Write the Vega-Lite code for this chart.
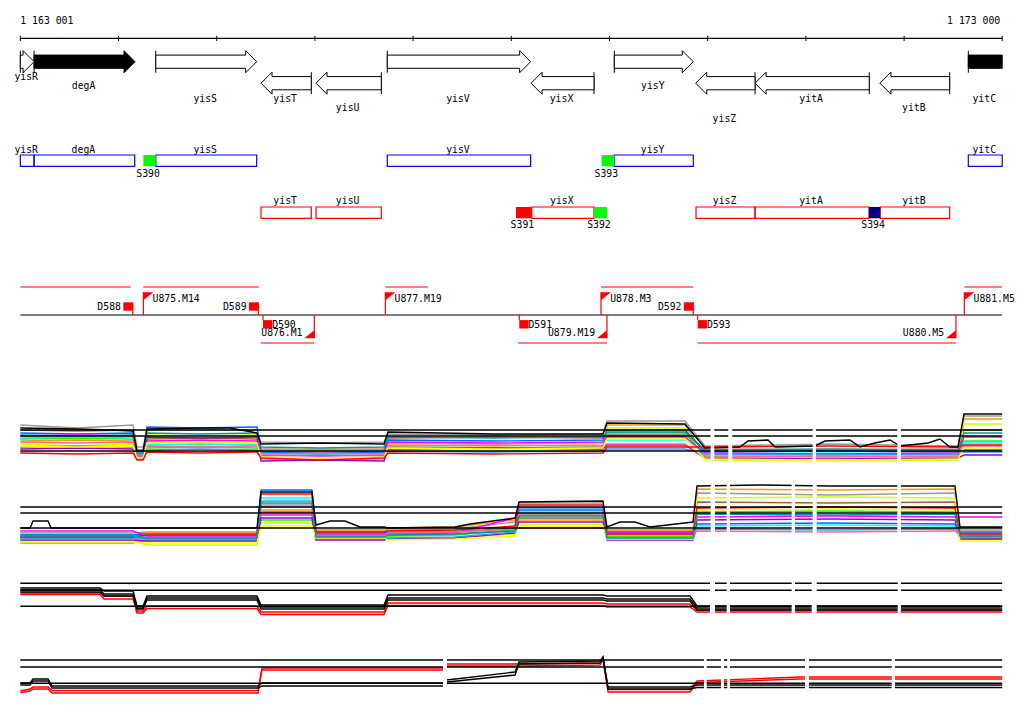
{
"$schema":"https://vega.github.io/schema/vega-lite/v6.json",
"width":1024,"height":714,
"autosize":{"type":"fit","contains":"padding"},
"padding":0,
"background":"white",
"config":{"view":{"stroke":null},"text":{"font":"DejaVu Sans Mono","fontSize":9.8,"color":"black","baseline":"alphabetic"}},
"datasets":{
"genes":[
{"n":"yisR","a":1163001,"b":1163141,"s":"+","f":0,"ly":80},
{"n":"degA","a":1163141,"b":1164169,"s":"+","f":1,"ly":89},
{"n":"yisS","a":1164380,"b":1165408,"s":"+","f":0,"ly":101.5},
{"n":"yisT","a":1165452,"b":1165964,"s":"-","f":0,"ly":101.5},
{"n":"yisU","a":1166012,"b":1166677,"s":"-","f":0,"ly":110.5},
{"n":"yisV","a":1166738,"b":1168198,"s":"+","f":0,"ly":101.5},
{"n":"yisX","a":1168202,"b":1168843,"s":"-","f":0,"ly":101.5},
{"n":"yisY","a":1169050,"b":1169854,"s":"+","f":0,"ly":89},
{"n":"yisZ","a":1169879,"b":1170483,"s":"-","f":0,"ly":121.5},
{"n":"yitA","a":1170483,"b":1171646,"s":"-","f":0,"ly":101.5},
{"n":"yitB","a":1171755,"b":1172465,"s":"-","f":0,"ly":110.5},
{"n":"yitC","a":1172655,"b":1173000,"s":"+","f":1,"ly":101.5,"t":1}
],
"boxes":[
{"n":"yisR","a":1163001,"b":1163141,"s":"+"},
{"n":"degA","a":1163141,"b":1164166,"s":"+"},
{"n":"yisS","a":1164380,"b":1165408,"s":"+"},
{"n":"yisV","a":1166738,"b":1168198,"s":"+"},
{"n":"yisY","a":1169047,"b":1169854,"s":"+"},
{"n":"yitC","a":1172655,"b":1173000,"s":"+"},
{"n":"yisT","a":1165452,"b":1165964,"s":"-"},
{"n":"yisU","a":1166012,"b":1166677,"s":"-"},
{"n":"yisX","a":1168209,"b":1168843,"s":"-"},
{"n":"yisZ","a":1169882,"b":1170483,"s":"-"},
{"n":"yitA","a":1170483,"b":1171643,"s":"-"},
{"n":"yitB","a":1171758,"b":1172465,"s":"-"}
],
"sites":[
{"n":"S390","a":1164254,"b":1164380,"s":"+","c":"g"},
{"n":"S391","a":1168049,"b":1168209,"s":"-","c":"r"},
{"n":"S392","a":1168843,"b":1168975,"s":"-","c":"g"},
{"n":"S393","a":1168921,"b":1169047,"s":"+","c":"g"},
{"n":"S394","a":1171643,"b":1171758,"s":"-","c":"b"}
],
"tul":[
{"a":1163001,"b":1173000,"s":"0"},
{"a":1163001,"b":1164125,"s":"+"},
{"a":1164254,"b":1165429,"s":"+"},
{"a":1166718,"b":1167153,"s":"+"},
{"a":1168914,"b":1169854,"s":"+"},
{"a":1172614,"b":1173000,"s":"+"},
{"a":1165452,"b":1165995,"s":"-"},
{"a":1168069,"b":1168975,"s":"-"},
{"a":1169899,"b":1172529,"s":"-"}
],
"tum":[
{"n":"D588","p":1164146,"k":"Du"},
{"n":"D589","p":1165425,"k":"Du"},
{"n":"D592","p":1169854,"k":"Du"},
{"n":"D590","p":1165472,"k":"Dd"},
{"n":"D591","p":1168082,"k":"Dd"},
{"n":"D593","p":1169899,"k":"Dd"},
{"n":"U875.M14","p":1164254,"k":"Uf"},
{"n":"U877.M19","p":1166718,"k":"Uf"},
{"n":"U878.M3","p":1168914,"k":"Uf"},
{"n":"U881.M5","p":1172614,"k":"Uf"},
{"n":"U876.M1","p":1165995,"k":"Ur"},
{"n":"U879.M19","p":1168975,"k":"Ur"},
{"n":"U880.M5","p":1172529,"k":"Ur"}
],
"refs":[
{"x":1163001,"x2":1173000,"y":430},{"x":1163001,"x2":1173000,"y":436},{"x":1163001,"x2":1173000,"y":451},
{"x":1163001,"x2":1173000,"y":507},{"x":1163001,"x2":1173000,"y":513},{"x":1163001,"x2":1173000,"y":528},
{"x":1163001,"x2":1173000,"y":583.3},{"x":1163001,"x2":1173000,"y":590.3},{"x":1163001,"x2":1173000,"y":606.3},
{"x":1163001,"x2":1173000,"y":660},{"x":1163001,"x2":1173000,"y":667},{"x":1163001,"x2":1173000,"y":683.3}
],
"gaps":[
{"x":1170031,"x2":1170068,"y":400,"y2":472},{"x":1170211,"x2":1170251,"y":400,"y2":472},{"x":1171070,"x2":1171104,"y":400,"y2":472},{"x":1171932,"x2":1171969,"y":400,"y2":472},
{"x":1170031,"x2":1170075,"y":478,"y2":553},{"x":1170194,"x2":1170228,"y":478,"y2":553},{"x":1170856,"x2":1170890,"y":478,"y2":553},{"x":1171070,"x2":1171111,"y":478,"y2":553},{"x":1171932,"x2":1171969,"y":478,"y2":553},
{"x":1170024,"x2":1170075,"y":578,"y2":620},{"x":1170194,"x2":1170228,"y":578,"y2":620},{"x":1170856,"x2":1170890,"y":578,"y2":620},{"x":1171060,"x2":1171111,"y":578,"y2":620},{"x":1171936,"x2":1171969,"y":578,"y2":620},
{"x":1167305,"x2":1167346,"y":652,"y2":700},{"x":1169963,"x2":1169991,"y":652,"y2":700},{"x":1170136,"x2":1170167,"y":652,"y2":700},{"x":1170200,"x2":1170228,"y":652,"y2":700},{"x":1170992,"x2":1171032,"y":652,"y2":700},{"x":1171875,"x2":1171908,"y":652,"y2":700}
],
"ex":[
{"g":"a01","x":1163001,"y":425},{"g":"a01","x":1163578,"y":428},{"g":"a01","x":1164149,"y":425},{"g":"a01","x":1164189,"y":447},{"g":"a01","x":1164251,"y":447},{"g":"a01","x":1164291,"y":430},{"g":"a01","x":1164831,"y":430},{"g":"a01","x":1165411,"y":430},{"g":"a01","x":1165452,"y":442},{"g":"a01","x":1166053,"y":443},{"g":"a01","x":1166705,"y":442},{"g":"a01","x":1166745,"y":434},{"g":"a01","x":1167835,"y":435},{"g":"a01","x":1168935,"y":434},{"g":"a01","x":1168975,"y":421},{"g":"a01","x":1169770,"y":421},{"g":"a01","x":1169973,"y":446},{"g":"a01","x":1171246,"y":444},{"g":"a01","x":1172550,"y":446},{"g":"a01","x":1172611,"y":416},{"g":"a01","x":1173000,"y":416},
{"g":"a02","x":1163001,"y":430},{"g":"a02","x":1163578,"y":431},{"g":"a02","x":1164149,"y":430},{"g":"a02","x":1164189,"y":450},{"g":"a02","x":1164251,"y":450},{"g":"a02","x":1164291,"y":439},{"g":"a02","x":1164831,"y":438},{"g":"a02","x":1165411,"y":439},{"g":"a02","x":1165452,"y":449},{"g":"a02","x":1166053,"y":450},{"g":"a02","x":1166705,"y":449},{"g":"a02","x":1166745,"y":438},{"g":"a02","x":1167835,"y":437},{"g":"a02","x":1168935,"y":438},{"g":"a02","x":1168975,"y":435},{"g":"a02","x":1169770,"y":435},{"g":"a02","x":1169973,"y":449},{"g":"a02","x":1171246,"y":450},{"g":"a02","x":1172550,"y":449},{"g":"a02","x":1172611,"y":430},{"g":"a02","x":1173000,"y":430},
{"g":"a03","x":1163001,"y":441},{"g":"a03","x":1163578,"y":440},{"g":"a03","x":1164149,"y":441},{"g":"a03","x":1164189,"y":452},{"g":"a03","x":1164251,"y":452},{"g":"a03","x":1164291,"y":445},{"g":"a03","x":1164831,"y":444},{"g":"a03","x":1165411,"y":445},{"g":"a03","x":1165452,"y":450},{"g":"a03","x":1166053,"y":449},{"g":"a03","x":1166705,"y":450},{"g":"a03","x":1166745,"y":445},{"g":"a03","x":1167835,"y":446},{"g":"a03","x":1168935,"y":445},{"g":"a03","x":1168975,"y":425},{"g":"a03","x":1169770,"y":425},{"g":"a03","x":1169973,"y":455},{"g":"a03","x":1171246,"y":454},{"g":"a03","x":1172550,"y":455},{"g":"a03","x":1172611,"y":419},{"g":"a03","x":1173000,"y":419},
{"g":"a04","x":1163001,"y":444},{"g":"a04","x":1163578,"y":446},{"g":"a04","x":1164149,"y":444},{"g":"a04","x":1164189,"y":458},{"g":"a04","x":1164251,"y":458},{"g":"a04","x":1164291,"y":435},{"g":"a04","x":1164831,"y":436},{"g":"a04","x":1165411,"y":435},{"g":"a04","x":1165452,"y":459},{"g":"a04","x":1166053,"y":460},{"g":"a04","x":1166705,"y":459},{"g":"a04","x":1166745,"y":450},{"g":"a04","x":1167835,"y":451},{"g":"a04","x":1168935,"y":450},{"g":"a04","x":1168975,"y":428},{"g":"a04","x":1169770,"y":428},{"g":"a04","x":1169973,"y":460},{"g":"a04","x":1171246,"y":461},{"g":"a04","x":1172550,"y":460},{"g":"a04","x":1172611,"y":424},{"g":"a04","x":1173000,"y":424},
{"g":"a05","x":1163001,"y":439},{"g":"a05","x":1163578,"y":438},{"g":"a05","x":1164149,"y":439},{"g":"a05","x":1164189,"y":454},{"g":"a05","x":1164251,"y":454},{"g":"a05","x":1164291,"y":448},{"g":"a05","x":1164831,"y":447},{"g":"a05","x":1165411,"y":448},{"g":"a05","x":1165452,"y":453},{"g":"a05","x":1166053,"y":454},{"g":"a05","x":1166705,"y":453},{"g":"a05","x":1166745,"y":447},{"g":"a05","x":1167835,"y":448},{"g":"a05","x":1168935,"y":447},{"g":"a05","x":1168975,"y":433},{"g":"a05","x":1169770,"y":433},{"g":"a05","x":1169973,"y":456},{"g":"a05","x":1171246,"y":457},{"g":"a05","x":1172550,"y":456},{"g":"a05","x":1172611,"y":441},{"g":"a05","x":1173000,"y":441},
{"g":"a06","x":1163001,"y":438},{"g":"a06","x":1163578,"y":437},{"g":"a06","x":1164149,"y":438},{"g":"a06","x":1164189,"y":453},{"g":"a06","x":1164251,"y":453},{"g":"a06","x":1164291,"y":444},{"g":"a06","x":1164831,"y":445},{"g":"a06","x":1165411,"y":444},{"g":"a06","x":1165452,"y":451},{"g":"a06","x":1166053,"y":452},{"g":"a06","x":1166705,"y":451},{"g":"a06","x":1166745,"y":443},{"g":"a06","x":1167835,"y":444},{"g":"a06","x":1168935,"y":443},{"g":"a06","x":1168975,"y":440},{"g":"a06","x":1169770,"y":440},{"g":"a06","x":1169973,"y":451},{"g":"a06","x":1171246,"y":452},{"g":"a06","x":1172550,"y":451},{"g":"a06","x":1172611,"y":443},{"g":"a06","x":1173000,"y":443},
{"g":"a07","x":1163001,"y":433},{"g":"a07","x":1163578,"y":434},{"g":"a07","x":1164149,"y":433},{"g":"a07","x":1164189,"y":455},{"g":"a07","x":1164251,"y":455},{"g":"a07","x":1164291,"y":427},{"g":"a07","x":1164831,"y":428},{"g":"a07","x":1165411,"y":427},{"g":"a07","x":1165452,"y":452},{"g":"a07","x":1166053,"y":453},{"g":"a07","x":1166705,"y":452},{"g":"a07","x":1166745,"y":440},{"g":"a07","x":1167835,"y":441},{"g":"a07","x":1168935,"y":440},{"g":"a07","x":1168975,"y":430},{"g":"a07","x":1169770,"y":430},{"g":"a07","x":1169973,"y":452},{"g":"a07","x":1171246,"y":451},{"g":"a07","x":1172550,"y":452},{"g":"a07","x":1172611,"y":450},{"g":"a07","x":1173000,"y":450},
{"g":"a08","x":1163001,"y":436},{"g":"a08","x":1163578,"y":435},{"g":"a08","x":1164149,"y":436},{"g":"a08","x":1164189,"y":456},{"g":"a08","x":1164251,"y":456},{"g":"a08","x":1164291,"y":441},{"g":"a08","x":1164831,"y":440},{"g":"a08","x":1165411,"y":441},{"g":"a08","x":1165452,"y":455},{"g":"a08","x":1166053,"y":456},{"g":"a08","x":1166705,"y":455},{"g":"a08","x":1166745,"y":442},{"g":"a08","x":1167835,"y":443},{"g":"a08","x":1168935,"y":442},{"g":"a08","x":1168975,"y":437},{"g":"a08","x":1169770,"y":437},{"g":"a08","x":1169973,"y":453},{"g":"a08","x":1171246,"y":454},{"g":"a08","x":1172550,"y":453},{"g":"a08","x":1172611,"y":437},{"g":"a08","x":1173000,"y":437},
{"g":"a09","x":1163001,"y":449},{"g":"a09","x":1163578,"y":448},{"g":"a09","x":1164149,"y":449},{"g":"a09","x":1164189,"y":459},{"g":"a09","x":1164251,"y":459},{"g":"a09","x":1164291,"y":437},{"g":"a09","x":1164831,"y":438},{"g":"a09","x":1165411,"y":437},{"g":"a09","x":1165452,"y":461},{"g":"a09","x":1166053,"y":460},{"g":"a09","x":1166705,"y":461},{"g":"a09","x":1166745,"y":449},{"g":"a09","x":1167835,"y":448},{"g":"a09","x":1168935,"y":449},{"g":"a09","x":1168975,"y":445},{"g":"a09","x":1169770,"y":445},{"g":"a09","x":1169973,"y":458},{"g":"a09","x":1171246,"y":459},{"g":"a09","x":1172550,"y":458},{"g":"a09","x":1172611,"y":455},{"g":"a09","x":1173000,"y":455},
{"g":"a10","x":1163001,"y":447},{"g":"a10","x":1163578,"y":446},{"g":"a10","x":1164149,"y":447},{"g":"a10","x":1164189,"y":457},{"g":"a10","x":1164251,"y":457},{"g":"a10","x":1164291,"y":450},{"g":"a10","x":1164831,"y":449},{"g":"a10","x":1165411,"y":450},{"g":"a10","x":1165452,"y":456},{"g":"a10","x":1166053,"y":455},{"g":"a10","x":1166705,"y":456},{"g":"a10","x":1166745,"y":451},{"g":"a10","x":1167835,"y":452},{"g":"a10","x":1168935,"y":451},{"g":"a10","x":1168975,"y":449},{"g":"a10","x":1169770,"y":449},{"g":"a10","x":1169973,"y":454},{"g":"a10","x":1171246,"y":455},{"g":"a10","x":1172550,"y":454},{"g":"a10","x":1172611,"y":452},{"g":"a10","x":1173000,"y":452},
{"g":"a11","x":1163001,"y":442},{"g":"a11","x":1163578,"y":443},{"g":"a11","x":1164149,"y":442},{"g":"a11","x":1164189,"y":455},{"g":"a11","x":1164251,"y":455},{"g":"a11","x":1164291,"y":446},{"g":"a11","x":1164831,"y":447},{"g":"a11","x":1165411,"y":446},{"g":"a11","x":1165452,"y":454},{"g":"a11","x":1166053,"y":453},{"g":"a11","x":1166705,"y":454},{"g":"a11","x":1166745,"y":446},{"g":"a11","x":1167835,"y":445},{"g":"a11","x":1168935,"y":446},{"g":"a11","x":1168975,"y":444},{"g":"a11","x":1169770,"y":444},{"g":"a11","x":1169973,"y":457},{"g":"a11","x":1171246,"y":456},{"g":"a11","x":1172550,"y":457},{"g":"a11","x":1172611,"y":446},{"g":"a11","x":1173000,"y":446},
{"g":"a12","x":1163001,"y":446},{"g":"a12","x":1163578,"y":447},{"g":"a12","x":1164149,"y":446},{"g":"a12","x":1164189,"y":458},{"g":"a12","x":1164251,"y":458},{"g":"a12","x":1164291,"y":443},{"g":"a12","x":1164831,"y":442},{"g":"a12","x":1165411,"y":443},{"g":"a12","x":1165452,"y":457},{"g":"a12","x":1166053,"y":458},{"g":"a12","x":1166705,"y":457},{"g":"a12","x":1166745,"y":448},{"g":"a12","x":1167835,"y":449},{"g":"a12","x":1168935,"y":448},{"g":"a12","x":1168975,"y":439},{"g":"a12","x":1169770,"y":439},{"g":"a12","x":1169973,"y":459},{"g":"a12","x":1171246,"y":460},{"g":"a12","x":1172550,"y":459},{"g":"a12","x":1172611,"y":448},{"g":"a12","x":1173000,"y":448},
{"g":"a13","x":1163001,"y":453},{"g":"a13","x":1163578,"y":454},{"g":"a13","x":1164149,"y":453},{"g":"a13","x":1164189,"y":460},{"g":"a13","x":1164251,"y":460},{"g":"a13","x":1164291,"y":452},{"g":"a13","x":1164831,"y":453},{"g":"a13","x":1165411,"y":452},{"g":"a13","x":1165452,"y":458},{"g":"a13","x":1166053,"y":460},{"g":"a13","x":1166705,"y":458},{"g":"a13","x":1166745,"y":453},{"g":"a13","x":1167835,"y":454},{"g":"a13","x":1168935,"y":453},{"g":"a13","x":1168975,"y":447},{"g":"a13","x":1169770,"y":447},{"g":"a13","x":1169973,"y":447},{"g":"a13","x":1171246,"y":446},{"g":"a13","x":1172550,"y":447},{"g":"a13","x":1172611,"y":445},{"g":"a13","x":1173000,"y":445},
{"g":"a14","x":1163001,"y":435},{"g":"a14","x":1163578,"y":436},{"g":"a14","x":1164149,"y":435},{"g":"a14","x":1164189,"y":453},{"g":"a14","x":1164251,"y":453},{"g":"a14","x":1164291,"y":433},{"g":"a14","x":1164831,"y":434},{"g":"a14","x":1165411,"y":433},{"g":"a14","x":1165452,"y":447},{"g":"a14","x":1166053,"y":448},{"g":"a14","x":1166705,"y":447},{"g":"a14","x":1166745,"y":437},{"g":"a14","x":1167835,"y":438},{"g":"a14","x":1168935,"y":437},{"g":"a14","x":1168975,"y":432},{"g":"a14","x":1169770,"y":432},{"g":"a14","x":1169973,"y":450},{"g":"a14","x":1171246,"y":449},{"g":"a14","x":1172550,"y":450},{"g":"a14","x":1172611,"y":433},{"g":"a14","x":1173000,"y":433},
{"g":"a15","x":1163001,"y":428},{"g":"a15","x":1163578,"y":429},{"g":"a15","x":1163914,"y":430},{"g":"a15","x":1164149,"y":431},{"g":"a15","x":1164189,"y":451},{"g":"a15","x":1164251,"y":451},{"g":"a15","x":1164291,"y":429},{"g":"a15","x":1164831,"y":428},{"g":"a15","x":1165136,"y":428},{"g":"a15","x":1165411,"y":433},{"g":"a15","x":1165452,"y":444},{"g":"a15","x":1166053,"y":443},{"g":"a15","x":1166705,"y":444},{"g":"a15","x":1166745,"y":432},{"g":"a15","x":1167835,"y":434},{"g":"a15","x":1168935,"y":434},{"g":"a15","x":1168975,"y":423},{"g":"a15","x":1169770,"y":424},{"g":"a15","x":1169973,"y":448},{"g":"a15","x":1170330,"y":447},{"g":"a15","x":1170411,"y":441},{"g":"a15","x":1170615,"y":440},{"g":"a15","x":1170686,"y":447},{"g":"a15","x":1171093,"y":446},{"g":"a15","x":1171195,"y":441},{"g":"a15","x":1171450,"y":440},{"g":"a15","x":1171552,"y":447},{"g":"a15","x":1171704,"y":443},{"g":"a15","x":1171857,"y":440},{"g":"a15","x":1171959,"y":446},{"g":"a15","x":1172244,"y":443},{"g":"a15","x":1172366,"y":439},{"g":"a15","x":1172468,"y":447},{"g":"a15","x":1172550,"y":447},{"g":"a15","x":1172611,"y":414},{"g":"a15","x":1173000,"y":414},
{"g":"b01","x":1163001,"y":533},{"g":"b01","x":1164149,"y":533},{"g":"b01","x":1164291,"y":532},{"g":"b01","x":1165411,"y":532},{"g":"b01","x":1165452,"y":505},{"g":"b01","x":1165971,"y":505},{"g":"b01","x":1166012,"y":530},{"g":"b01","x":1166705,"y":530},{"g":"b01","x":1166745,"y":530},{"g":"b01","x":1167428,"y":529},{"g":"b01","x":1168039,"y":522},{"g":"b01","x":1168079,"y":503},{"g":"b01","x":1168935,"y":503},{"g":"b01","x":1168975,"y":530},{"g":"b01","x":1169851,"y":530},{"g":"b01","x":1169892,"y":493},{"g":"b01","x":1171246,"y":495},{"g":"b01","x":1172519,"y":493},{"g":"b01","x":1172570,"y":530},{"g":"b01","x":1173000,"y":530},
{"g":"b02","x":1163001,"y":538},{"g":"b02","x":1164149,"y":538},{"g":"b02","x":1164291,"y":538},{"g":"b02","x":1165411,"y":538},{"g":"b02","x":1165452,"y":512},{"g":"b02","x":1165971,"y":512},{"g":"b02","x":1166012,"y":536},{"g":"b02","x":1166705,"y":536},{"g":"b02","x":1166745,"y":535},{"g":"b02","x":1167428,"y":534},{"g":"b02","x":1168039,"y":530},{"g":"b02","x":1168079,"y":518},{"g":"b02","x":1168935,"y":518},{"g":"b02","x":1168975,"y":537},{"g":"b02","x":1169851,"y":537},{"g":"b02","x":1169892,"y":502},{"g":"b02","x":1171246,"y":503},{"g":"b02","x":1172519,"y":502},{"g":"b02","x":1172570,"y":536},{"g":"b02","x":1173000,"y":536},
{"g":"b03","x":1163001,"y":536},{"g":"b03","x":1164149,"y":536},{"g":"b03","x":1164291,"y":533},{"g":"b03","x":1165411,"y":533},{"g":"b03","x":1165452,"y":510},{"g":"b03","x":1165971,"y":510},{"g":"b03","x":1166012,"y":531},{"g":"b03","x":1166705,"y":531},{"g":"b03","x":1166745,"y":528},{"g":"b03","x":1167428,"y":527},{"g":"b03","x":1168039,"y":520},{"g":"b03","x":1168079,"y":520},{"g":"b03","x":1168935,"y":520},{"g":"b03","x":1168975,"y":531},{"g":"b03","x":1169851,"y":531},{"g":"b03","x":1169892,"y":489},{"g":"b03","x":1171246,"y":490},{"g":"b03","x":1172519,"y":489},{"g":"b03","x":1172570,"y":533},{"g":"b03","x":1173000,"y":533},
{"g":"b04","x":1163001,"y":541},{"g":"b04","x":1164149,"y":541},{"g":"b04","x":1164291,"y":545},{"g":"b04","x":1165411,"y":545},{"g":"b04","x":1165452,"y":523},{"g":"b04","x":1165971,"y":523},{"g":"b04","x":1166012,"y":539},{"g":"b04","x":1166705,"y":539},{"g":"b04","x":1166745,"y":537},{"g":"b04","x":1167428,"y":538},{"g":"b04","x":1168039,"y":534},{"g":"b04","x":1168079,"y":525},{"g":"b04","x":1168935,"y":525},{"g":"b04","x":1168975,"y":538},{"g":"b04","x":1169851,"y":538},{"g":"b04","x":1169892,"y":498},{"g":"b04","x":1171246,"y":497},{"g":"b04","x":1172519,"y":498},{"g":"b04","x":1172570,"y":540},{"g":"b04","x":1173000,"y":540},
{"g":"b05","x":1163001,"y":543},{"g":"b05","x":1164149,"y":543},{"g":"b05","x":1164291,"y":540},{"g":"b05","x":1165411,"y":540},{"g":"b05","x":1165452,"y":520},{"g":"b05","x":1165971,"y":520},{"g":"b05","x":1166012,"y":537},{"g":"b05","x":1166705,"y":537},{"g":"b05","x":1166745,"y":536},{"g":"b05","x":1167428,"y":535},{"g":"b05","x":1168039,"y":530},{"g":"b05","x":1168079,"y":515},{"g":"b05","x":1168935,"y":515},{"g":"b05","x":1168975,"y":536},{"g":"b05","x":1169851,"y":536},{"g":"b05","x":1169892,"y":512},{"g":"b05","x":1171246,"y":511},{"g":"b05","x":1172519,"y":512},{"g":"b05","x":1172570,"y":538},{"g":"b05","x":1173000,"y":538},
{"g":"b06","x":1163001,"y":534},{"g":"b06","x":1164149,"y":534},{"g":"b06","x":1164291,"y":537},{"g":"b06","x":1165411,"y":537},{"g":"b06","x":1165452,"y":498},{"g":"b06","x":1165971,"y":498},{"g":"b06","x":1166012,"y":534},{"g":"b06","x":1166705,"y":534},{"g":"b06","x":1166745,"y":532},{"g":"b06","x":1167428,"y":531},{"g":"b06","x":1168039,"y":527},{"g":"b06","x":1168079,"y":512},{"g":"b06","x":1168935,"y":512},{"g":"b06","x":1168975,"y":535},{"g":"b06","x":1169851,"y":535},{"g":"b06","x":1169892,"y":526},{"g":"b06","x":1171246,"y":525},{"g":"b06","x":1172519,"y":526},{"g":"b06","x":1172570,"y":535},{"g":"b06","x":1173000,"y":535},
{"g":"b07","x":1163001,"y":535},{"g":"b07","x":1164149,"y":535},{"g":"b07","x":1164291,"y":534},{"g":"b07","x":1165411,"y":534},{"g":"b07","x":1165452,"y":490},{"g":"b07","x":1165971,"y":490},{"g":"b07","x":1166012,"y":533},{"g":"b07","x":1166705,"y":533},{"g":"b07","x":1166745,"y":533},{"g":"b07","x":1167428,"y":532},{"g":"b07","x":1168039,"y":528},{"g":"b07","x":1168079,"y":510},{"g":"b07","x":1168935,"y":510},{"g":"b07","x":1168975,"y":532},{"g":"b07","x":1169851,"y":532},{"g":"b07","x":1169892,"y":524},{"g":"b07","x":1171246,"y":523},{"g":"b07","x":1172519,"y":524},{"g":"b07","x":1172570,"y":532},{"g":"b07","x":1173000,"y":532},
{"g":"b08","x":1163001,"y":531},{"g":"b08","x":1164149,"y":531},{"g":"b08","x":1164291,"y":536},{"g":"b08","x":1165411,"y":536},{"g":"b08","x":1165452,"y":515},{"g":"b08","x":1165971,"y":515},{"g":"b08","x":1166012,"y":535},{"g":"b08","x":1166705,"y":535},{"g":"b08","x":1166745,"y":534},{"g":"b08","x":1167428,"y":533},{"g":"b08","x":1168039,"y":518},{"g":"b08","x":1168079,"y":528},{"g":"b08","x":1168935,"y":528},{"g":"b08","x":1168975,"y":533},{"g":"b08","x":1169851,"y":533},{"g":"b08","x":1169892,"y":517},{"g":"b08","x":1171246,"y":516},{"g":"b08","x":1172519,"y":517},{"g":"b08","x":1172570,"y":517},{"g":"b08","x":1173000,"y":517},
{"g":"b09","x":1163001,"y":540},{"g":"b09","x":1164149,"y":540},{"g":"b09","x":1164291,"y":541},{"g":"b09","x":1165411,"y":541},{"g":"b09","x":1165452,"y":518},{"g":"b09","x":1165971,"y":518},{"g":"b09","x":1166012,"y":540},{"g":"b09","x":1166705,"y":540},{"g":"b09","x":1166745,"y":539},{"g":"b09","x":1167428,"y":538},{"g":"b09","x":1168039,"y":533},{"g":"b09","x":1168079,"y":522},{"g":"b09","x":1168935,"y":522},{"g":"b09","x":1168975,"y":540},{"g":"b09","x":1169851,"y":540},{"g":"b09","x":1169892,"y":520},{"g":"b09","x":1171246,"y":519},{"g":"b09","x":1172519,"y":520},{"g":"b09","x":1172570,"y":539},{"g":"b09","x":1173000,"y":539},
{"g":"b10","x":1163001,"y":539},{"g":"b10","x":1164149,"y":539},{"g":"b10","x":1164291,"y":539},{"g":"b10","x":1165411,"y":539},{"g":"b10","x":1165452,"y":501},{"g":"b10","x":1165971,"y":501},{"g":"b10","x":1166012,"y":538},{"g":"b10","x":1166705,"y":538},{"g":"b10","x":1166745,"y":538},{"g":"b10","x":1167428,"y":537},{"g":"b10","x":1168039,"y":532},{"g":"b10","x":1168079,"y":508},{"g":"b10","x":1168935,"y":508},{"g":"b10","x":1168975,"y":539},{"g":"b10","x":1169851,"y":539},{"g":"b10","x":1169892,"y":529},{"g":"b10","x":1171246,"y":530},{"g":"b10","x":1172519,"y":529},{"g":"b10","x":1172570,"y":537},{"g":"b10","x":1173000,"y":537},
{"g":"b11","x":1163001,"y":537},{"g":"b11","x":1164149,"y":537},{"g":"b11","x":1164291,"y":535},{"g":"b11","x":1165411,"y":535},{"g":"b11","x":1165452,"y":507},{"g":"b11","x":1165971,"y":507},{"g":"b11","x":1166012,"y":536},{"g":"b11","x":1166705,"y":536},{"g":"b11","x":1166745,"y":533},{"g":"b11","x":1167428,"y":532},{"g":"b11","x":1168039,"y":529},{"g":"b11","x":1168079,"y":514},{"g":"b11","x":1168935,"y":514},{"g":"b11","x":1168975,"y":534},{"g":"b11","x":1169851,"y":534},{"g":"b11","x":1169892,"y":531},{"g":"b11","x":1171246,"y":532},{"g":"b11","x":1172519,"y":531},{"g":"b11","x":1172570,"y":534},{"g":"b11","x":1173000,"y":534},
{"g":"b12","x":1163001,"y":542},{"g":"b12","x":1164149,"y":542},{"g":"b12","x":1164291,"y":543},{"g":"b12","x":1165411,"y":543},{"g":"b12","x":1165452,"y":526},{"g":"b12","x":1165971,"y":526},{"g":"b12","x":1166012,"y":538},{"g":"b12","x":1166705,"y":538},{"g":"b12","x":1166745,"y":540},{"g":"b12","x":1167428,"y":539},{"g":"b12","x":1168039,"y":536},{"g":"b12","x":1168079,"y":526},{"g":"b12","x":1168935,"y":526},{"g":"b12","x":1168975,"y":539},{"g":"b12","x":1169851,"y":539},{"g":"b12","x":1169892,"y":510},{"g":"b12","x":1171246,"y":509},{"g":"b12","x":1172519,"y":510},{"g":"b12","x":1172570,"y":541},{"g":"b12","x":1173000,"y":541},
{"g":"b13","x":1163001,"y":537},{"g":"b13","x":1164149,"y":537},{"g":"b13","x":1164291,"y":535},{"g":"b13","x":1165411,"y":535},{"g":"b13","x":1165452,"y":494},{"g":"b13","x":1165971,"y":494},{"g":"b13","x":1166012,"y":532},{"g":"b13","x":1166705,"y":532},{"g":"b13","x":1166745,"y":531},{"g":"b13","x":1167428,"y":530},{"g":"b13","x":1168039,"y":526},{"g":"b13","x":1168079,"y":505},{"g":"b13","x":1168935,"y":505},{"g":"b13","x":1168975,"y":534},{"g":"b13","x":1169851,"y":534},{"g":"b13","x":1169892,"y":508},{"g":"b13","x":1171246,"y":507},{"g":"b13","x":1172519,"y":508},{"g":"b13","x":1172570,"y":534},{"g":"b13","x":1173000,"y":534},
{"g":"b14","x":1163001,"y":536},{"g":"b14","x":1164149,"y":536},{"g":"b14","x":1164291,"y":538},{"g":"b14","x":1165411,"y":538},{"g":"b14","x":1165452,"y":503},{"g":"b14","x":1165971,"y":503},{"g":"b14","x":1166012,"y":537},{"g":"b14","x":1166705,"y":537},{"g":"b14","x":1166745,"y":535},{"g":"b14","x":1167428,"y":534},{"g":"b14","x":1168039,"y":531},{"g":"b14","x":1168079,"y":516},{"g":"b14","x":1168935,"y":516},{"g":"b14","x":1168975,"y":538},{"g":"b14","x":1169851,"y":538},{"g":"b14","x":1169892,"y":514},{"g":"b14","x":1171246,"y":515},{"g":"b14","x":1172519,"y":514},{"g":"b14","x":1172570,"y":536},{"g":"b14","x":1173000,"y":536},
{"g":"b15","x":1163001,"y":528},{"g":"b15","x":1163100,"y":528},{"g":"b15","x":1163130,"y":521},{"g":"b15","x":1163283,"y":521},{"g":"b15","x":1163314,"y":528},{"g":"b15","x":1164149,"y":528},{"g":"b15","x":1164291,"y":528},{"g":"b15","x":1165411,"y":528},{"g":"b15","x":1165452,"y":492},{"g":"b15","x":1165971,"y":492},{"g":"b15","x":1166012,"y":525},{"g":"b15","x":1166155,"y":521},{"g":"b15","x":1166307,"y":521},{"g":"b15","x":1166460,"y":527},{"g":"b15","x":1166705,"y":527},{"g":"b15","x":1166745,"y":528},{"g":"b15","x":1167428,"y":527},{"g":"b15","x":1167580,"y":524},{"g":"b15","x":1168039,"y":518},{"g":"b15","x":1168079,"y":502},{"g":"b15","x":1168935,"y":501},{"g":"b15","x":1168975,"y":527},{"g":"b15","x":1169108,"y":522},{"g":"b15","x":1169261,"y":522},{"g":"b15","x":1169413,"y":527},{"g":"b15","x":1169851,"y":522},{"g":"b15","x":1169892,"y":486},{"g":"b15","x":1170533,"y":485},{"g":"b15","x":1171246,"y":486},{"g":"b15","x":1172519,"y":486},{"g":"b15","x":1172570,"y":527},{"g":"b15","x":1173000,"y":527},
{"g":"c4","x":1163001,"y":593},{"g":"c4","x":1163813,"y":593},{"g":"c4","x":1163853,"y":596},{"g":"c4","x":1164149,"y":596},{"g":"c4","x":1164189,"y":611},{"g":"c4","x":1164251,"y":611},{"g":"c4","x":1164291,"y":606},{"g":"c4","x":1165411,"y":606},{"g":"c4","x":1165452,"y":612},{"g":"c4","x":1166705,"y":612},{"g":"c4","x":1166745,"y":603},{"g":"c4","x":1168935,"y":603},{"g":"c4","x":1168975,"y":604},{"g":"c4","x":1169821,"y":604},{"g":"c4","x":1169892,"y":610},{"g":"c4","x":1173000,"y":610},
{"g":"c5","x":1163001,"y":594.5},{"g":"c5","x":1163813,"y":594.5},{"g":"c5","x":1163853,"y":599},{"g":"c5","x":1164149,"y":599},{"g":"c5","x":1164189,"y":613},{"g":"c5","x":1164251,"y":613},{"g":"c5","x":1164291,"y":608.5},{"g":"c5","x":1165411,"y":608.5},{"g":"c5","x":1165452,"y":614.5},{"g":"c5","x":1166705,"y":614.5},{"g":"c5","x":1166745,"y":605.5},{"g":"c5","x":1168935,"y":605.5},{"g":"c5","x":1168975,"y":607},{"g":"c5","x":1169821,"y":607},{"g":"c5","x":1169892,"y":612},{"g":"c5","x":1173000,"y":612},
{"g":"c1","x":1163001,"y":588},{"g":"c1","x":1163813,"y":588},{"g":"c1","x":1163853,"y":591},{"g":"c1","x":1164149,"y":591},{"g":"c1","x":1164189,"y":606},{"g":"c1","x":1164251,"y":606},{"g":"c1","x":1164291,"y":596},{"g":"c1","x":1165411,"y":596},{"g":"c1","x":1165452,"y":605},{"g":"c1","x":1166705,"y":605},{"g":"c1","x":1166745,"y":595},{"g":"c1","x":1168935,"y":595},{"g":"c1","x":1168975,"y":596},{"g":"c1","x":1169821,"y":596},{"g":"c1","x":1169892,"y":606},{"g":"c1","x":1173000,"y":606},
{"g":"c2","x":1163001,"y":590},{"g":"c2","x":1163813,"y":590},{"g":"c2","x":1163853,"y":594},{"g":"c2","x":1164149,"y":594},{"g":"c2","x":1164189,"y":608},{"g":"c2","x":1164251,"y":608},{"g":"c2","x":1164291,"y":598},{"g":"c2","x":1165411,"y":598},{"g":"c2","x":1165452,"y":607},{"g":"c2","x":1166705,"y":607},{"g":"c2","x":1166745,"y":598},{"g":"c2","x":1168935,"y":598},{"g":"c2","x":1168975,"y":599},{"g":"c2","x":1169821,"y":599},{"g":"c2","x":1169892,"y":608},{"g":"c2","x":1173000,"y":608},
{"g":"c3","x":1163001,"y":592},{"g":"c3","x":1163813,"y":592},{"g":"c3","x":1163853,"y":596},{"g":"c3","x":1164149,"y":596},{"g":"c3","x":1164189,"y":609},{"g":"c3","x":1164251,"y":609},{"g":"c3","x":1164291,"y":600},{"g":"c3","x":1165411,"y":600},{"g":"c3","x":1165452,"y":609},{"g":"c3","x":1166705,"y":609},{"g":"c3","x":1166745,"y":600},{"g":"c3","x":1168935,"y":600},{"g":"c3","x":1168975,"y":601},{"g":"c3","x":1169821,"y":601},{"g":"c3","x":1169892,"y":610},{"g":"c3","x":1173000,"y":610},
{"g":"d3","x":1163001,"y":691},{"g":"d3","x":1163100,"y":689},{"g":"d3","x":1163130,"y":687},{"g":"d3","x":1163283,"y":687},{"g":"d3","x":1163324,"y":690.5},{"g":"d3","x":1165422,"y":690.5},{"g":"d3","x":1165462,"y":668},{"g":"d3","x":1167305,"y":668},{"g":"d3","x":1167346,"y":664},{"g":"d3","x":1168039,"y":664},{"g":"d3","x":1168079,"y":664},{"g":"d3","x":1168904,"y":663},{"g":"d3","x":1168935,"y":657},{"g":"d3","x":1168986,"y":689.5},{"g":"d3","x":1169821,"y":689.5},{"g":"d3","x":1169892,"y":681},{"g":"d3","x":1170941,"y":677},{"g":"d3","x":1173000,"y":677},
{"g":"d4","x":1163001,"y":692.5},{"g":"d4","x":1163100,"y":691},{"g":"d4","x":1163130,"y":689},{"g":"d4","x":1163283,"y":689},{"g":"d4","x":1163324,"y":693},{"g":"d4","x":1165422,"y":693},{"g":"d4","x":1165462,"y":670},{"g":"d4","x":1167305,"y":670},{"g":"d4","x":1167346,"y":666},{"g":"d4","x":1168039,"y":666},{"g":"d4","x":1168079,"y":666},{"g":"d4","x":1168904,"y":665},{"g":"d4","x":1168935,"y":659},{"g":"d4","x":1168986,"y":692},{"g":"d4","x":1169821,"y":692},{"g":"d4","x":1169892,"y":682.5},{"g":"d4","x":1170941,"y":679},{"g":"d4","x":1173000,"y":679},
{"g":"d1","x":1163001,"y":683},{"g":"d1","x":1163100,"y":683},{"g":"d1","x":1163130,"y":679},{"g":"d1","x":1163283,"y":679},{"g":"d1","x":1163324,"y":686},{"g":"d1","x":1165422,"y":686},{"g":"d1","x":1165462,"y":683},{"g":"d1","x":1167305,"y":683},{"g":"d1","x":1167346,"y":680},{"g":"d1","x":1168039,"y":672},{"g":"d1","x":1168079,"y":662},{"g":"d1","x":1168904,"y":661},{"g":"d1","x":1168935,"y":657},{"g":"d1","x":1168986,"y":687},{"g":"d1","x":1169821,"y":687},{"g":"d1","x":1169892,"y":685},{"g":"d1","x":1170941,"y":685},{"g":"d1","x":1173000,"y":685},
{"g":"d2","x":1163001,"y":685},{"g":"d2","x":1163100,"y":685},{"g":"d2","x":1163130,"y":681},{"g":"d2","x":1163283,"y":681},{"g":"d2","x":1163324,"y":688},{"g":"d2","x":1165422,"y":688},{"g":"d2","x":1165462,"y":686},{"g":"d2","x":1167305,"y":686},{"g":"d2","x":1167346,"y":682},{"g":"d2","x":1168039,"y":675},{"g":"d2","x":1168079,"y":664},{"g":"d2","x":1168904,"y":663},{"g":"d2","x":1168935,"y":659},{"g":"d2","x":1168986,"y":689},{"g":"d2","x":1169821,"y":689},{"g":"d2","x":1169892,"y":687.5},{"g":"d2","x":1170941,"y":687.5},{"g":"d2","x":1173000,"y":687.5}
]
},
"encoding":{
"x":{"field":"x","type":"quantitative","scale":{"domain":[1162794,1173222],"nice":false,"zero":false},"axis":null},
"y":{"field":"y","type":"quantitative","scale":{"domain":[0,714],"reverse":true,"nice":false,"zero":false},"axis":null}
},
"layer":[
{"data":{"values":[{"x":1163001,"x2":1173000,"y":38.3}]},"mark":{"type":"rule","color":"black","strokeWidth":1.3},"encoding":{"x2":{"field":"x2"}}},
{"data":{"values":[{"x":1163001},{"x":1164001},{"x":1165001},{"x":1166001},{"x":1167001},{"x":1168001},{"x":1169001},{"x":1170001},{"x":1171001},{"x":1172001},{"x":1173000}]},
 "transform":[{"calculate":"35.8","as":"y"},{"calculate":"41","as":"y2"}],
 "mark":{"type":"rule","color":"black","strokeWidth":1},"encoding":{"y2":{"field":"y2"}}},
{"data":{"values":[{"t":"1 163 001","x":1163001,"y":24}]},"mark":{"type":"text","align":"left"},"encoding":{"text":{"field":"t"}}},
{"data":{"values":[{"t":"1 173 000","x":1173000,"y":24}]},"mark":{"type":"text","align":"right","dx":-2},"encoding":{"text":{"field":"t"}}},

{"data":{"name":"genes"},"transform":[{"calculate":"datum.s=='+'?datum.a:datum.b","as":"x"},{"calculate":"datum.s=='+'?50.7:72.2","as":"y"},{"calculate":"datum.y+22","as":"y2"}],
 "mark":{"type":"rule","color":"black","strokeWidth":1},"encoding":{"y2":{"field":"y2"}}},
{"data":{"name":"genes"},"transform":[{"calculate":"datum.s=='+'?datum.a:datum.a+100","as":"x"},{"calculate":"datum.s=='+'?(datum.t==1?datum.b:datum.b-100):datum.b","as":"x2"},{"calculate":"datum.s=='+'?55.1:76.6","as":"y"},{"calculate":"datum.y+13.2","as":"y2"}],
 "mark":{"type":"rect","stroke":"black","strokeWidth":1},
 "encoding":{"x2":{"field":"x2"},"y2":{"field":"y2"},"fill":{"condition":{"test":"datum.f==1","value":"black"},"value":"white"}}},
{"data":{"name":"genes"},"transform":[{"filter":"datum.s=='+' && datum.t!=1"},{"calculate":"datum.b","as":"x"},{"calculate":"61.7","as":"y"}],
 "mark":{"type":"point","shape":"M-1,-0.6L-1,-1L0,0L-1,1L-1,0.6","size":484,"filled":true,"stroke":"black","strokeWidth":1,"opacity":1},
 "encoding":{"fill":{"condition":{"test":"datum.f==1","value":"black"},"value":"white"}}},
{"data":{"name":"genes"},"transform":[{"filter":"datum.s=='-'"},{"calculate":"datum.a","as":"x"},{"calculate":"83.2","as":"y"}],
 "mark":{"type":"point","shape":"M1,-0.6L1,-1L0,0L1,1L1,0.6","size":484,"filled":true,"stroke":"black","strokeWidth":1,"opacity":1},
 "encoding":{"fill":{"value":"white"}}},
{"data":{"name":"genes"},"transform":[{"calculate":"(datum.a+datum.b)/2","as":"x"},{"calculate":"datum.ly","as":"y"}],
 "mark":{"type":"text","align":"center","dx":-1},"encoding":{"text":{"field":"n"}}},

{"data":{"name":"boxes"},"transform":[{"calculate":"datum.a","as":"x"},{"calculate":"datum.b","as":"x2"},{"calculate":"datum.s=='+'?155:207","as":"y"},{"calculate":"datum.y+11.3","as":"y2"}],
 "mark":{"type":"rect","filled":false,"strokeWidth":1.2},
 "encoding":{"x2":{"field":"x2"},"y2":{"field":"y2"},"stroke":{"condition":{"test":"datum.s=='+'","value":"#0000ff"},"value":"#ff0000"}}},
{"data":{"name":"boxes"},"transform":[{"calculate":"(datum.a+datum.b)/2","as":"x"},{"calculate":"datum.s=='+'?153:204","as":"y"}],
 "mark":{"type":"text","align":"center","dx":-1},"encoding":{"text":{"field":"n"}}},
{"data":{"name":"sites"},"transform":[{"calculate":"datum.a","as":"x"},{"calculate":"datum.b","as":"x2"},{"calculate":"datum.s=='+'?155:207","as":"y"},{"calculate":"datum.y+11.3","as":"y2"}],
 "mark":{"type":"rect","strokeWidth":0},
 "encoding":{"x2":{"field":"x2"},"y2":{"field":"y2"},"fill":{"field":"c","type":"nominal","scale":{"domain":["g","r","b"],"range":["#00ff00","#ff0000","#000080"]},"legend":null}}},
{"data":{"name":"sites"},"transform":[{"calculate":"(datum.a+datum.b)/2","as":"x"},{"calculate":"datum.s=='+'?176.5:228","as":"y"}],
 "mark":{"type":"text","align":"center","dx":-1.5},"encoding":{"text":{"field":"n"}}},

{"data":{"name":"tul"},"transform":[{"calculate":"datum.a","as":"x"},{"calculate":"datum.b","as":"x2"},{"calculate":"datum.s=='+'?287:(datum.s=='-'?343:315)","as":"y"}],
 "mark":{"type":"rule","strokeWidth":1.2},
 "encoding":{"x2":{"field":"x2"},"color":{"condition":{"test":"datum.s=='0'","value":"black"},"value":"#ff0000"}}},
{"data":{"name":"tum"},"transform":[{"calculate":"datum.p","as":"x"},{"calculate":"datum.k=='Du'?302.3:(datum.k=='Uf'?292.3:315)","as":"y"},{"calculate":"(datum.k=='Du'||datum.k=='Uf')?315:(datum.k=='Dd'?320:338.3)","as":"y2"}],
 "mark":{"type":"rule","color":"#ff0000","strokeWidth":1.2},"encoding":{"y2":{"field":"y2"}}},
{"data":{"name":"tum"},"transform":[{"filter":"datum.k=='Du'"},{"calculate":"datum.p","as":"x"},{"calculate":"306.5","as":"y"}],
 "mark":{"type":"point","shape":"M-2.1,-0.93L0,-0.93L0,0.93L-2.1,0.93Z","size":81,"filled":true,"color":"#ff0000","opacity":1}},
{"data":{"name":"tum"},"transform":[{"filter":"datum.k=='Dd'"},{"calculate":"datum.p","as":"x"},{"calculate":"324.3","as":"y"}],
 "mark":{"type":"point","shape":"M0,-0.93L2.1,-0.93L2.1,0.93L0,0.93Z","size":81,"filled":true,"color":"#ff0000","opacity":1}},
{"data":{"name":"tum"},"transform":[{"filter":"datum.k=='Uf'"},{"calculate":"datum.p","as":"x"},{"calculate":"292.3","as":"y"}],
 "mark":{"type":"point","shape":"M0,0L2,0L0,1.6Z","size":100,"filled":true,"color":"#ff0000","opacity":1}},
{"data":{"name":"tum"},"transform":[{"filter":"datum.k=='Ur'"},{"calculate":"datum.p","as":"x"},{"calculate":"338.3","as":"y"}],
 "mark":{"type":"point","shape":"M0,0L-2,0L0,-1.6Z","size":100,"filled":true,"color":"#ff0000","opacity":1}},
{"data":{"name":"tum"},"transform":[{"filter":"datum.k=='Du'||datum.k=='Ur'"},{"calculate":"datum.p","as":"x"},{"calculate":"datum.k=='Du'?310:336","as":"y"}],
 "mark":{"type":"text","align":"right","dx":-11.8},"encoding":{"text":{"field":"n"}}},
{"data":{"name":"tum"},"transform":[{"filter":"datum.k=='Dd'||datum.k=='Uf'"},{"calculate":"datum.p","as":"x"},{"calculate":"datum.k=='Dd'?327.5:302","as":"y"}],
 "mark":{"type":"text","align":"left","dx":9.2},"encoding":{"text":{"field":"n"}}},

{"data":{"name":"ex"},"mark":{"type":"line","strokeWidth":1.4,"interpolate":"linear"},
 "encoding":{"color":{"field":"g","type":"nominal","legend":null,"scale":{
  "domain":["a01","a02","a03","a04","a05","a06","a07","a08","a09","a10","a11","a12","a13","a14","a15","b01","b02","b03","b04","b05","b06","b07","b08","b09","b10","b11","b12","b13","b14","b15","c1","c2","c3","c4","c5","d1","d2","d3","d4"],
  "range":["#999999","#996633","#ff9900","#ccff00","#00ff00","#00ffff","#0066ff","#ff00ff","#9900cc","#3399ff","#ff6699","#ffff00","#ff0000","#009999","#000000","#999999","#996633","#ff9900","#ccff00","#00ff00","#00ffff","#0066ff","#ff00ff","#9900cc","#3399ff","#ff6699","#ffff00","#ff0000","#009999","#000000","#000000","#000000","#000000","#ff0000","#ff0000","#000000","#000000","#ff0000","#ff0000"]}}}},
{"data":{"name":"refs"},"mark":{"type":"rule","color":"black","strokeWidth":1.4},"encoding":{"x2":{"field":"x2"}}},
{"data":{"name":"gaps"},"mark":{"type":"rect","color":"white","opacity":1,"strokeWidth":0},"encoding":{"x2":{"field":"x2"},"y2":{"field":"y2"}}}
]
}
